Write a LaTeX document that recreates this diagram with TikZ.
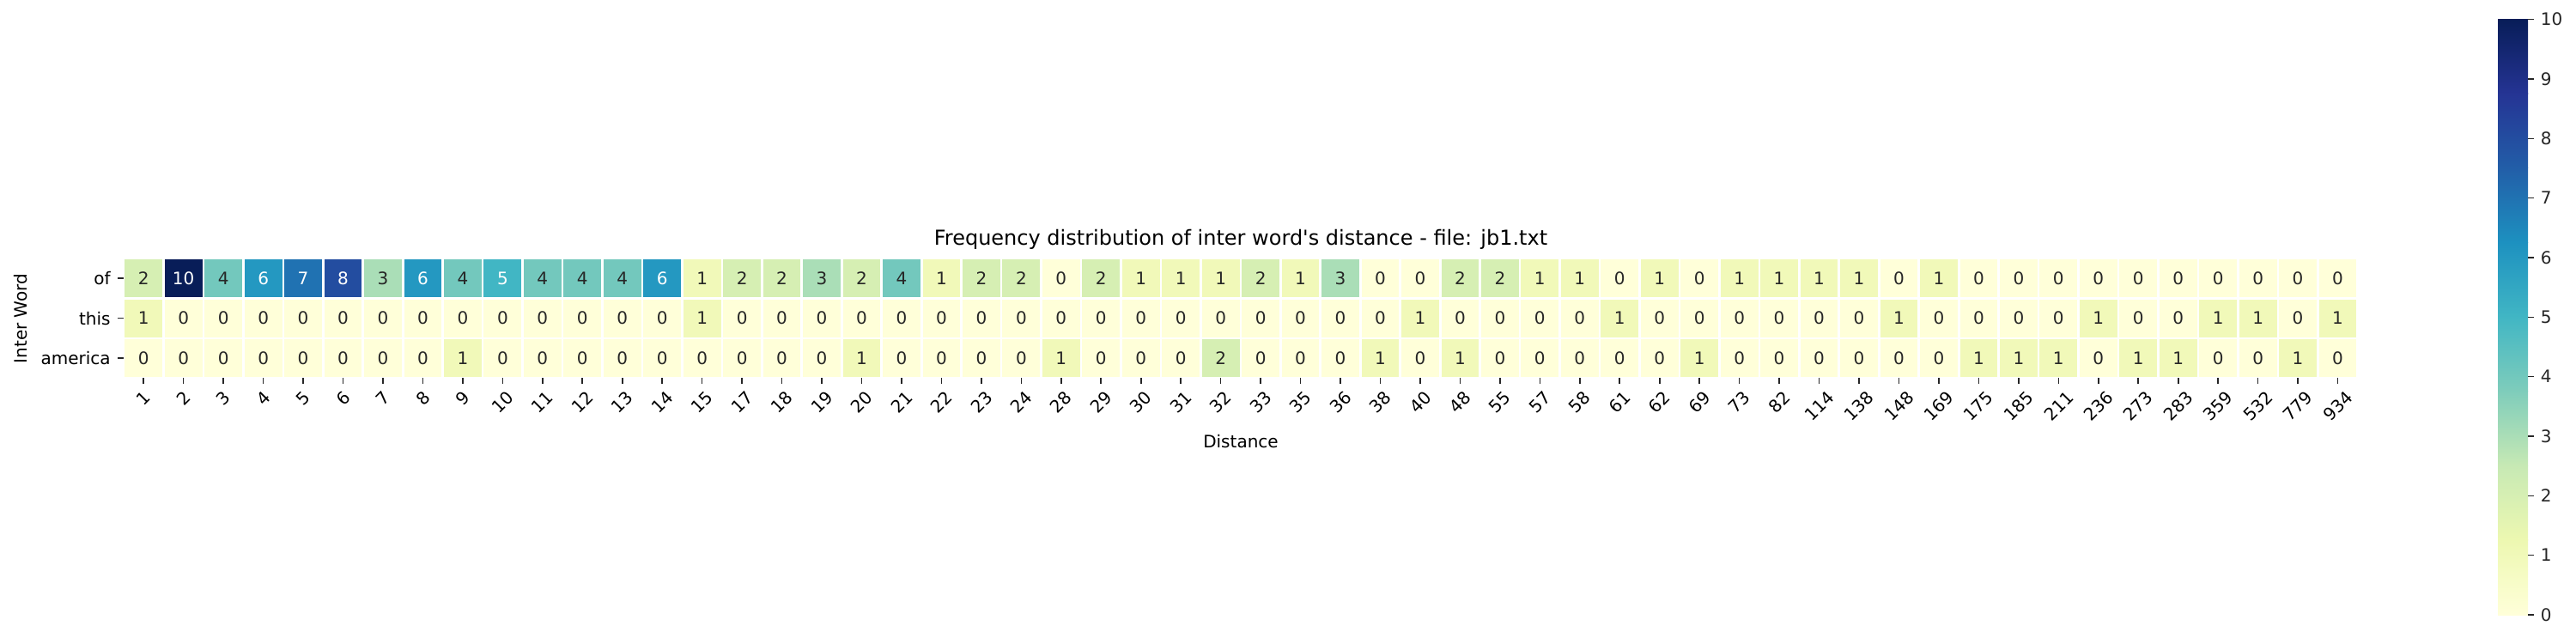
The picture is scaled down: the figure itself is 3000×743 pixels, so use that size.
\documentclass[tikz,border=0pt]{standalone}
\usepackage{graphicx}
\usepackage{fontspec}
\setmainfont{DejaVu Sans}[Ligatures=TeXOff]
% YlGnBu at the values 0..10
\definecolor{c0}{RGB}{255,255,217}
\definecolor{c1}{RGB}{241,249,185}
\definecolor{c2}{RGB}{214,239,179}
\definecolor{c3}{RGB}{170,222,183}
\definecolor{c4}{RGB}{115,200,189}
\definecolor{c5}{RGB}{65,182,196}
\definecolor{c6}{RGB}{36,152,193}
\definecolor{c7}{RGB}{32,114,178}
\definecolor{c8}{RGB}{35,77,160}
\definecolor{c9}{RGB}{31,47,136}
\definecolor{c10}{RGB}{8,29,88}
\definecolor{ink}{RGB}{38,38,38}
% text colour of the annotations
\colorlet{t0}{ink}\colorlet{t1}{ink}\colorlet{t2}{ink}\colorlet{t3}{ink}\colorlet{t4}{ink}
\colorlet{t5}{white}\colorlet{t6}{white}\colorlet{t7}{white}\colorlet{t8}{white}
\colorlet{t9}{white}\colorlet{t10}{white}
% colour bar stops
\definecolor{cm0}{HTML}{FFFFD9}
\definecolor{cm1}{HTML}{EDF8B1}
\definecolor{cm2}{HTML}{C7E9B4}
\definecolor{cm3}{HTML}{7FCDBB}
\definecolor{cm4}{HTML}{41B6C4}
\definecolor{cm5}{HTML}{1D91C0}
\definecolor{cm6}{HTML}{225EA8}
\definecolor{cm7}{HTML}{253494}
\definecolor{cm8}{HTML}{081D58}
\begin{document}
\begin{tikzpicture}[x=0.5pt, y=-0.5pt,
	cellbox/.style={minimum width=21.9pt, minimum height=21.9pt, inner sep=0pt,
		outer sep=0pt, font=\fontsize{10}{12}\selectfont},
	ticklabel/.style={inner sep=0pt, font=\fontsize{10}{12}\selectfont},
	tickline/.style={ink, line width=0.8pt}]
		\useasboundingbox (0,0) rectangle (3000,743);
		% cells
		\foreach \vals [count=\r from 0] in {
			{2,10,4,6,7,8,3,6,4,5,4,4,4,6,1,2,2,3,2,4,1,2,2,0,2,1,1,1,2,1,3,0,0,2,2,1,1,0,1,0,1,1,1,1,0,1,0,0,0,0,0,0,0,0,0,0},
			{1,0,0,0,0,0,0,0,0,0,0,0,0,0,1,0,0,0,0,0,0,0,0,0,0,0,0,0,0,0,0,0,1,0,0,0,0,1,0,0,0,0,0,0,1,0,0,0,0,1,0,0,1,1,0,1},
			{0,0,0,0,0,0,0,0,1,0,0,0,0,0,0,0,0,0,1,0,0,0,0,1,0,0,0,2,0,0,0,1,0,1,0,0,0,0,0,1,0,0,0,0,0,0,1,1,1,0,1,1,0,0,1,0}}
		{
			\foreach \v [count=\i from 0] in \vals
				\node[cellbox, fill=c\v, text=t\v] (cell-\r-\i) at (167.23+\i*46.46, 324.23+\r*46.46) {\v};
		}
		% rows
		\foreach \w [count=\r from 0] in {of,this,america} {
			\draw[tickline] (137, 324.23+\r*46.46) -- (144, 324.23+\r*46.46);
			\node[ticklabel, anchor=east] (word-\r) at (129, 324.23+\r*46.46) {\w};
		}
		% distances
		\foreach \d [count=\i from 0] in {1,2,3,4,5,6,7,8,9,10,11,12,13,14,15,17,18,19,20,21,22,23,24,28,29,30,31,32,33,35,36,38,40,48,55,57,58,61,62,69,73,82,114,138,148,169,175,185,211,236,273,283,359,532,779,934} {
			\draw[tickline] (cell-2-\i.south) ++(0,1.3) -- ++(0,7);
			\node[ticklabel, anchor=north] (dist-\i) at (167.23+\i*46.46, 454) {\rotatebox{45}{\d}};
		}
		\node[ticklabel, anchor=base] (title) at (1445, 286)
			{\fontsize{12}{14.4}\selectfont Frequency distribution of inter word's distance - file: jb1.txt};
		\node[ticklabel, anchor=base] (xlabel) at (1445, 521) {Distance};
		\node[ticklabel, rotate=90] (ylabel) at (24, 371) {Inter Word};
		% colour bar
		\foreach \lo/\hi [count=\k from 0] in {cm0/cm1,cm1/cm2,cm2/cm3,cm3/cm4,cm4/cm5,cm5/cm6,cm6/cm7,cm7/cm8}
			\shade[bottom color=\lo, top color=\hi] (2909, 716-\k*86.67) rectangle (2944, 716-\k*86.67-87.17);
		\foreach \t in {0,...,10}
			\draw[tickline] (2944, 716-\t*69.33) -- (2951, 716-\t*69.33)
				node[ticklabel, anchor=west, xshift=3.5pt] (bar-\t) {\t};
	%
	\end{tikzpicture}
\end{document}
